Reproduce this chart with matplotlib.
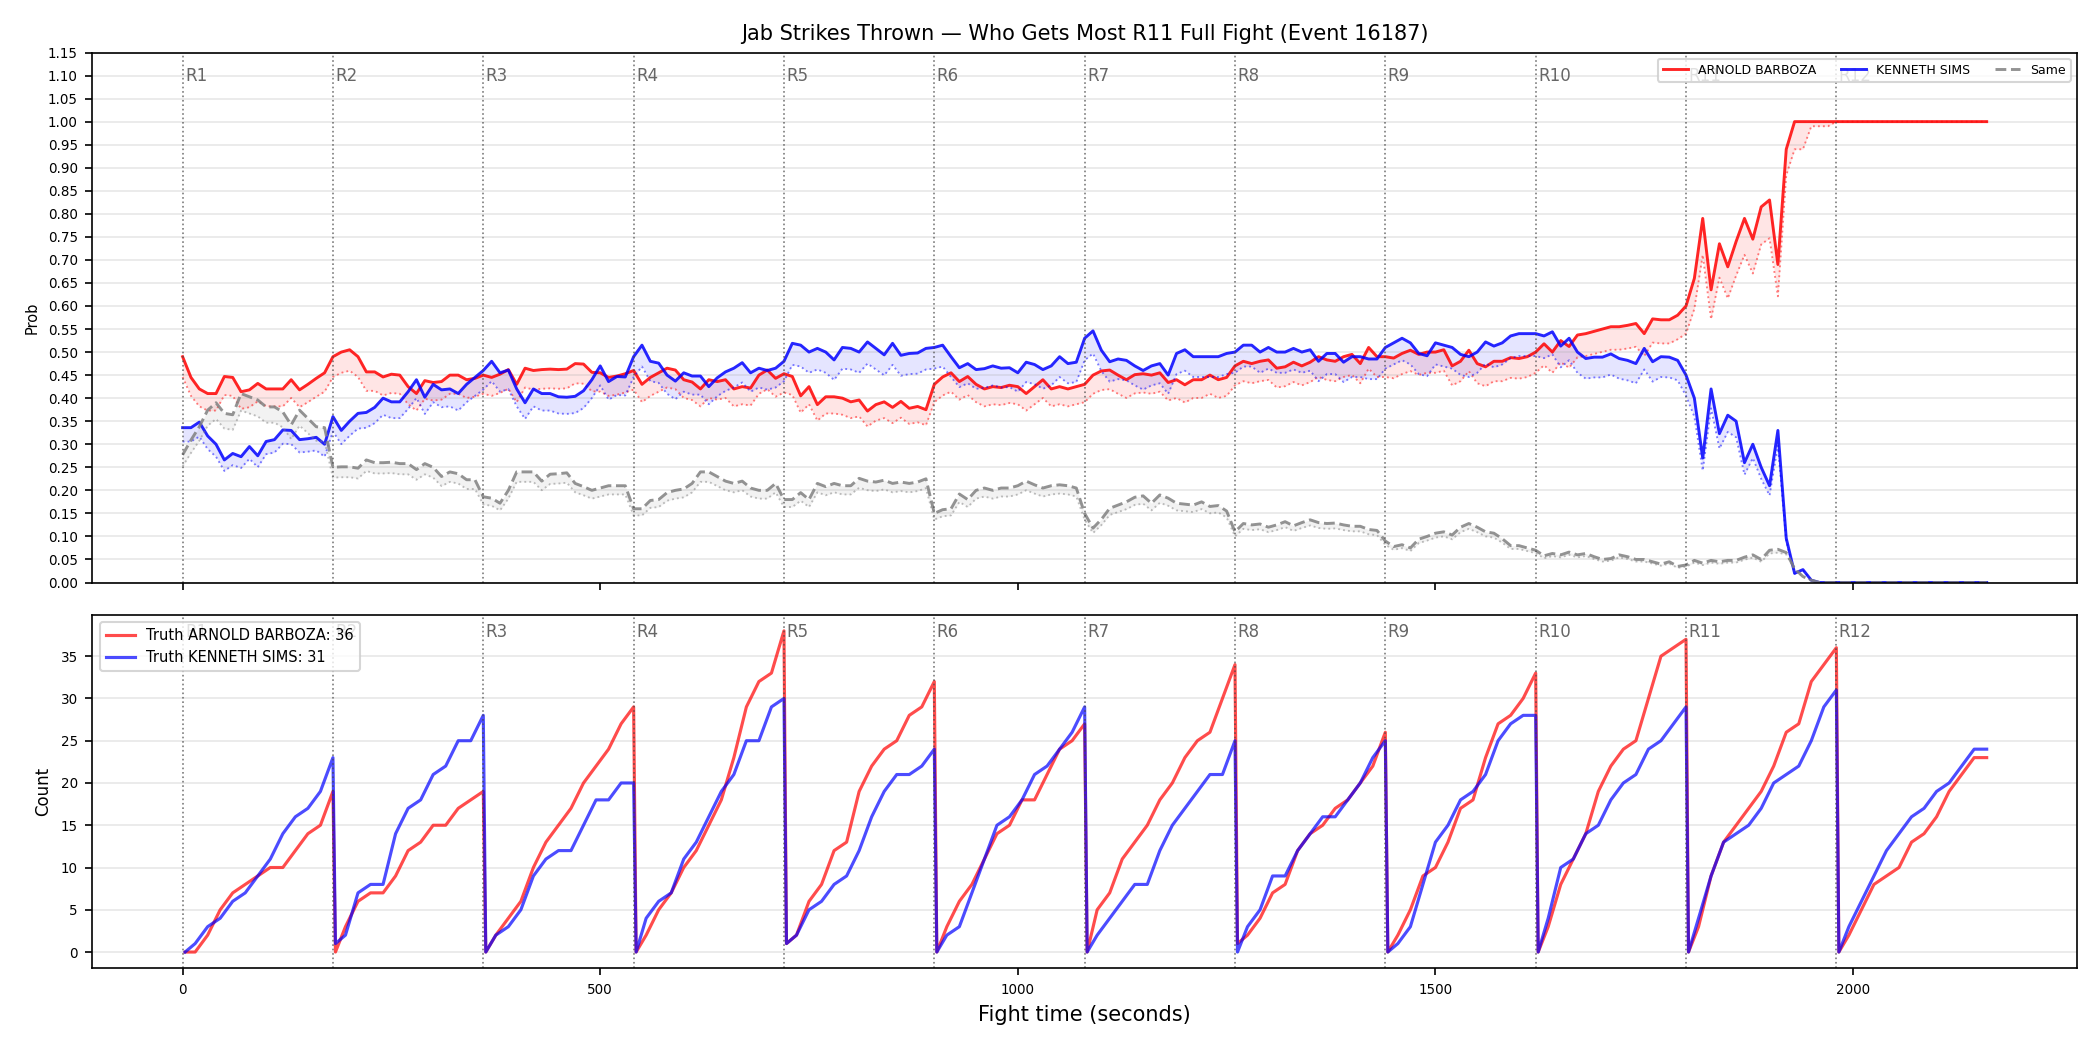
import matplotlib
matplotlib.use('Agg')
import numpy as np
import matplotlib.pyplot as plt

fighter_a = 'ARNOLD BARBOZA'
fighter_b = 'KENNETH SIMS'
round_len = 180
n_rounds = 12
step = 10  # seconds between probability samples

# probability that each side throws the most jabs, 18 samples per round (every 10 s)
prob_a = [
    0.49, 0.445, 0.42, 0.41, 0.41, 0.447, 0.445, 0.414, 0.418, 0.432, 0.42, 0.42, 0.42, 0.44, 0.418, 0.43, 0.443, 0.455,
    0.49, 0.50, 0.505, 0.49, 0.457, 0.457, 0.446, 0.452, 0.45, 0.425, 0.41, 0.438, 0.434, 0.436, 0.45, 0.45, 0.44, 0.443,
    0.45, 0.445, 0.452, 0.462, 0.43, 0.465, 0.46, 0.462, 0.463, 0.462, 0.463, 0.475, 0.474, 0.456, 0.455, 0.445, 0.448, 0.453,
    0.46, 0.43, 0.445, 0.455, 0.465, 0.461, 0.44, 0.435, 0.42, 0.44, 0.436, 0.44, 0.42, 0.425, 0.422, 0.45, 0.461, 0.443,
    0.453, 0.447, 0.405, 0.425, 0.386, 0.403, 0.403, 0.40, 0.392, 0.396, 0.372, 0.386, 0.392, 0.38, 0.393, 0.378, 0.382, 0.375,
    0.43, 0.446, 0.455, 0.436, 0.447, 0.43, 0.42, 0.425, 0.423, 0.428, 0.425, 0.41, 0.425, 0.44, 0.42, 0.425, 0.42, 0.425,
    0.43, 0.45, 0.459, 0.461, 0.45, 0.44, 0.451, 0.453, 0.45, 0.455, 0.434, 0.44, 0.429, 0.44, 0.44, 0.45, 0.44, 0.445,
    0.47, 0.48, 0.475, 0.48, 0.483, 0.465, 0.468, 0.478, 0.47, 0.478, 0.49, 0.483, 0.48, 0.49, 0.495, 0.475, 0.51, 0.49,
    0.49, 0.487, 0.497, 0.504, 0.495, 0.50, 0.50, 0.505, 0.47, 0.48, 0.504, 0.475, 0.468, 0.48, 0.48, 0.488, 0.486, 0.49,
    0.50, 0.518, 0.50, 0.525, 0.512, 0.537, 0.54, 0.545, 0.55, 0.555, 0.555, 0.558, 0.562, 0.54, 0.572, 0.57, 0.57, 0.58,
    0.60, 0.66, 0.79, 0.635, 0.735, 0.685, 0.74, 0.79, 0.745, 0.815, 0.83, 0.69, 0.94, 1.0, 1.0, 1.0, 1.0, 1.0,
    1.0, 1.0, 1.0, 1.0, 1.0, 1.0, 1.0, 1.0, 1.0, 1.0, 1.0, 1.0, 1.0, 1.0, 1.0, 1.0, 1.0, 1.0,
    1.0,
]
prob_b = [
    0.336, 0.336, 0.348, 0.318, 0.30, 0.266, 0.28, 0.273, 0.295, 0.275, 0.306, 0.31, 0.331, 0.33, 0.31, 0.312, 0.315, 0.30,
    0.36, 0.33, 0.35, 0.367, 0.369, 0.38, 0.40, 0.392, 0.392, 0.414, 0.44, 0.402, 0.43, 0.418, 0.42, 0.41, 0.43, 0.445,
    0.46, 0.48, 0.455, 0.461, 0.42, 0.39, 0.42, 0.41, 0.41, 0.403, 0.402, 0.404, 0.416, 0.44, 0.47, 0.436, 0.447, 0.446,
    0.49, 0.515, 0.48, 0.476, 0.45, 0.437, 0.455, 0.448, 0.448, 0.425, 0.444, 0.457, 0.465, 0.477, 0.455, 0.465, 0.46, 0.465,
    0.48, 0.519, 0.515, 0.50, 0.508, 0.50, 0.483, 0.51, 0.508, 0.50, 0.522, 0.508, 0.494, 0.519, 0.493, 0.497, 0.498, 0.508,
    0.51, 0.515, 0.49, 0.466, 0.475, 0.462, 0.464, 0.47, 0.465, 0.466, 0.455, 0.478, 0.473, 0.462, 0.47, 0.49, 0.475, 0.478,
    0.53, 0.546, 0.504, 0.479, 0.485, 0.482, 0.47, 0.46, 0.47, 0.475, 0.45, 0.497, 0.505, 0.49, 0.49, 0.49, 0.49, 0.497,
    0.50, 0.515, 0.515, 0.50, 0.51, 0.50, 0.50, 0.508, 0.50, 0.505, 0.48, 0.497, 0.497, 0.478, 0.49, 0.49, 0.485, 0.485,
    0.51, 0.52, 0.53, 0.52, 0.497, 0.492, 0.52, 0.515, 0.51, 0.495, 0.49, 0.50, 0.522, 0.513, 0.52, 0.535, 0.54, 0.54,
    0.54, 0.535, 0.544, 0.513, 0.53, 0.50, 0.486, 0.489, 0.489, 0.496, 0.486, 0.482, 0.475, 0.508, 0.479, 0.49, 0.489, 0.482,
    0.45, 0.40, 0.27, 0.42, 0.323, 0.363, 0.35, 0.26, 0.30, 0.25, 0.21, 0.33, 0.096, 0.02, 0.028, 0.005, 0.0, 0.0,
    0.0, 0.0, 0.0, 0.0, 0.0, 0.0, 0.0, 0.0, 0.0, 0.0, 0.0, 0.0, 0.0, 0.0, 0.0, 0.0, 0.0, 0.0,
    0.0,
]
prob_same = [
    0.277, 0.309, 0.338, 0.374, 0.39, 0.367, 0.364, 0.41, 0.403, 0.396, 0.381, 0.381, 0.37, 0.342, 0.374, 0.356, 0.338, 0.336,
    0.25, 0.251, 0.251, 0.248, 0.266, 0.26, 0.26, 0.261, 0.258, 0.258, 0.245, 0.258, 0.25, 0.23, 0.24, 0.236, 0.223, 0.223,
    0.186, 0.183, 0.172, 0.20, 0.24, 0.24, 0.24, 0.22, 0.235, 0.236, 0.238, 0.215, 0.208, 0.20, 0.205, 0.21, 0.21, 0.21,
    0.16, 0.16, 0.178, 0.18, 0.195, 0.20, 0.203, 0.215, 0.24, 0.24, 0.23, 0.22, 0.215, 0.22, 0.205, 0.20, 0.20, 0.215,
    0.18, 0.18, 0.195, 0.18, 0.215, 0.208, 0.215, 0.21, 0.21, 0.226, 0.22, 0.218, 0.222, 0.215, 0.218, 0.215, 0.218, 0.225,
    0.15, 0.158, 0.16, 0.192, 0.18, 0.20, 0.205, 0.20, 0.205, 0.205, 0.21, 0.22, 0.212, 0.205, 0.21, 0.212, 0.21, 0.205,
    0.15, 0.118, 0.137, 0.161, 0.168, 0.175, 0.185, 0.188, 0.172, 0.19, 0.183, 0.172, 0.17, 0.168, 0.175, 0.165, 0.167, 0.155,
    0.11, 0.128, 0.125, 0.127, 0.12, 0.125, 0.132, 0.123, 0.13, 0.136, 0.13, 0.128, 0.129, 0.125, 0.122, 0.122, 0.115, 0.113,
    0.09, 0.078, 0.082, 0.075, 0.094, 0.10, 0.107, 0.11, 0.103, 0.12, 0.128, 0.12, 0.11, 0.107, 0.095, 0.08, 0.08, 0.075,
    0.07, 0.058, 0.063, 0.06, 0.066, 0.06, 0.063, 0.056, 0.05, 0.052, 0.06, 0.056, 0.05, 0.05, 0.045, 0.04, 0.045, 0.035,
    0.038, 0.048, 0.042, 0.048, 0.045, 0.048, 0.048, 0.055, 0.06, 0.05, 0.07, 0.072, 0.065, 0.03, 0.013, 0.005, 0.0, 0.0,
    0.0, 0.0, 0.0, 0.0, 0.0, 0.0, 0.0, 0.0, 0.0, 0.0, 0.0, 0.0, 0.0, 0.0, 0.0, 0.0, 0.0, 0.0,
    0.0,
]
# dotted lines sit at this fraction of the solid ones, per 30 s block (6 blocks a round)
lower_ratio = [
    [0.91, 0.91, 0.91, 0.91, 0.91, 0.91],
    [0.91, 0.91, 0.91, 0.91, 0.91, 0.91],
    [0.91, 0.91, 0.91, 0.91, 0.91, 0.91],
    [0.91, 0.91, 0.91, 0.91, 0.91, 0.91],
    [0.91, 0.91, 0.91, 0.91, 0.91, 0.91],
    [0.91, 0.91, 0.91, 0.91, 0.91, 0.91],
    [0.91, 0.91, 0.91, 0.91, 0.91, 0.91],
    [0.91, 0.91, 0.91, 0.91, 0.91, 0.91],
    [0.91, 0.91, 0.91, 0.91, 0.91, 0.91],
    [0.91, 0.91, 0.91, 0.91, 0.91, 0.91],
    [0.90, 0.90, 0.90, 0.90, 0.94, 0.99],
    [1.0, 1.0, 1.0, 1.0, 1.0, 1.0],
]

# running jab counts inside each round, sampled at these seconds into the round
count_offsets = [3, 15, 30, 45, 60, 75, 90, 105, 120, 135, 150, 165, 180]
counts_a = [
    [0, 0, 2, 5, 7, 8, 9, 10, 10, 12, 14, 15, 19],
    [0, 3, 6, 7, 7, 9, 12, 13, 15, 15, 17, 18, 19],
    [0, 2, 4, 6, 10, 13, 15, 17, 20, 22, 24, 27, 29],
    [0, 2, 5, 7, 10, 12, 15, 18, 23, 29, 32, 33, 38],
    [1, 2, 6, 8, 12, 13, 19, 22, 24, 25, 28, 29, 32],
    [0, 3, 6, 8, 11, 14, 15, 18, 18, 21, 24, 25, 27],
    [0, 5, 7, 11, 13, 15, 18, 20, 23, 25, 26, 30, 34],
    [1, 2, 4, 7, 8, 12, 14, 15, 17, 18, 20, 22, 26],
    [0, 2, 5, 9, 10, 13, 17, 18, 23, 27, 28, 30, 33],
    [0, 3, 8, 11, 14, 19, 22, 24, 25, 30, 35, 36, 37],
    [0, 3, 9, 13, 15, 17, 19, 22, 26, 27, 32, 34, 36],
    [0, 2, 5, 8, 9, 10, 13, 14, 16, 19, 21, 23, 23],
]
counts_b = [
    [0, 1, 3, 4, 6, 7, 9, 11, 14, 16, 17, 19, 23],
    [1, 2, 7, 8, 8, 14, 17, 18, 21, 22, 25, 25, 28],
    [0, 2, 3, 5, 9, 11, 12, 12, 15, 18, 18, 20, 20],
    [0, 4, 6, 7, 11, 13, 16, 19, 21, 25, 25, 29, 30],
    [1, 2, 5, 6, 8, 9, 12, 16, 19, 21, 21, 22, 24],
    [0, 2, 3, 7, 11, 15, 16, 18, 21, 22, 24, 26, 29],
    [0, 2, 4, 6, 8, 8, 12, 15, 17, 19, 21, 21, 25],
    [0, 3, 5, 9, 9, 12, 14, 16, 16, 18, 20, 23, 25],
    [0, 1, 3, 8, 13, 15, 18, 19, 21, 25, 27, 28, 28],
    [0, 4, 10, 11, 14, 15, 18, 20, 21, 24, 25, 27, 29],
    [0, 4, 9, 13, 14, 15, 17, 20, 21, 22, 25, 29, 31],
    [0, 3, 6, 9, 12, 14, 16, 17, 19, 20, 22, 24, 24],
]
truth_round = 11
truth_a = 36
truth_b = 31


def main():
    t = np.arange(len(prob_a)) * step
    block = 30 // step
    ratio = np.repeat(np.ravel(lower_ratio), block)
    ratio = np.append(ratio, ratio[-1])

    fig, (ax1, ax2) = plt.subplots(2, 1, figsize=(14, 7), dpi=150, sharex=True,
                                   gridspec_kw={'height_ratios': [3, 2]})
    fig.subplots_adjust(left=0.044, right=0.989, top=0.95, bottom=0.078, hspace=0.073)

    series = [(prob_a, 'red', '-', fighter_a),
              (prob_b, 'blue', '-', fighter_b),
              (prob_same, 'gray', '--', 'Same')]
    for vals, col, ls, name in series:
        vals = np.array(vals)
        low = vals * ratio
        ax1.fill_between(t, low, vals, color=col, alpha=0.1, lw=0)
        ax1.plot(t, low, color=col, ls=':', lw=0.9, alpha=0.5)
        ax1.plot(t, vals, color=col, ls=ls, lw=1.4, alpha=0.85, label=name)

    ax1.set_ylim(0, 1.15)
    ax1.set_yticks(np.arange(0, 1.151, 0.05))
    ax1.set_yticklabels(['%.2f' % v for v in np.arange(0, 1.151, 0.05)])
    ax1.set_ylabel('Prob', fontsize=7)
    ax1.tick_params(labelsize=6.5)
    ax1.grid(axis='y', alpha=0.3)
    ax1.set_title('Jab Strikes Thrown \u2014 Who Gets Most R%d Full Fight (Event 16187)' % truth_round,
                  fontsize=10)
    ax1.legend(loc='upper right', ncol=3, fontsize=6)

    # counts reset at every round
    xc, ya, yb = [], [], []
    for r in range(n_rounds):
        xc += [r * round_len + o for o in count_offsets]
        ya += counts_a[r]
        yb += counts_b[r]
    ax2.plot(xc, ya, color='red', lw=1.5, alpha=0.7, label='Truth %s: %d' % (fighter_a, truth_a))
    ax2.plot(xc, yb, color='blue', lw=1.5, alpha=0.7, label='Truth %s: %d' % (fighter_b, truth_b))
    ax2.set_ylabel('Count', fontsize=8)
    ax2.set_xlabel('Fight time (seconds)', fontsize=10)
    ax2.tick_params(labelsize=6.5)
    ax2.grid(axis='y', alpha=0.3)
    ax2.legend(loc='upper left', fontsize=7)

    for ax, ylab in [(ax1, 1.10), (ax2, ax2.get_ylim()[1] * 0.95)]:
        for r in range(n_rounds):
            x0 = r * round_len
            ax.axvline(x0, color='#444444', ls=':', lw=0.8, alpha=0.7)
            ax.text(x0 + 3, ylab, 'R%d' % (r + 1), color='#666666', fontsize=8, va='center')

    fig.savefig('out.png')


if __name__ == '__main__':
    main()
